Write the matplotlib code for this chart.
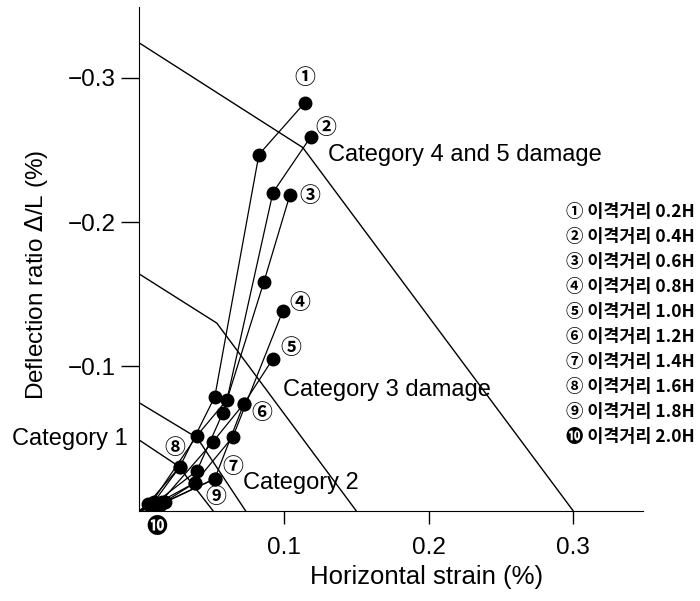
import numpy as np
import matplotlib.pyplot as plt

plt.rcParams['font.family'] = ['Liberation Sans', 'DejaVu Sans']
plt.rcParams['mathtext.fontset'] = 'custom'
plt.rcParams['mathtext.it'] = 'DejaVu Sans:italic'
kr_font = ['Noto Sans CJK KR', 'DejaVu Sans']

# damage category boundaries (horizontal strain %, deflection ratio %)
cat1_x = [0, 0.027, 0.051]
cat1_y = [-0.049, -0.031, 0]
cat2_x = [0, 0.040, 0.0735]
cat2_y = [-0.0748, -0.0506, 0]
cat3_x = [0, 0.0536, 0.150]
cat3_y = [-0.164, -0.130, 0]
cat45_x = [0, 0.113, 0.300]
cat45_y = [-0.324, -0.2516, 0]

# measured points for each offset distance
s1_x = [0, 0.006, 0.028, 0.0522, 0.0827, 0.1145]
s1_y = [0, -0.005, -0.0305, -0.079, -0.2467, -0.2827]
s2_x = [0, 0.008, 0.0398, 0.0606, 0.0924, 0.1187]
s2_y = [0, -0.005, -0.052, -0.0769, -0.2204, -0.2592]
s3_x = [0, 0.009, 0.0398, 0.0578, 0.0862, 0.1042]
s3_y = [0, -0.004, -0.0277, -0.0679, -0.1587, -0.219]
s4_x = [0, 0.010, 0.0384, 0.0647, 0.0993]
s4_y = [0, -0.004, -0.0194, -0.0513, -0.1386]
s5_x = [0, 0.011, 0.0522, 0.0723, 0.0924]
s5_y = [0, -0.003, -0.0222, -0.0742, -0.1053]
s6_x = [0, 0.012, 0.0509, 0.0723]
s6_y = [0, -0.003, -0.0478, -0.0742]
s7_x = [0, 0.018, 0.0522]
s7_y = [0, -0.006, -0.0222]
s8_x = [0, 0.010, 0.028]
s8_y = [0, -0.006, -0.0305]
s9_x = [0, 0.014, 0.0384]
s9_y = [0, -0.004, -0.0194]
s10_x = [0, 0.008, 0.016]
s10_y = [0, -0.003, -0.006]

series = [(s1_x, s1_y), (s2_x, s2_y), (s3_x, s3_y), (s4_x, s4_y), (s5_x, s5_y),
          (s6_x, s6_y), (s7_x, s7_y), (s8_x, s8_y), (s9_x, s9_y), (s10_x, s10_y)]

marks = ['①', '②', '③', '④', '⑤', '⑥', '⑦', '⑧', '⑨', '❿']
distances = ['0.2H', '0.4H', '0.6H', '0.8H', '1.0H', '1.2H', '1.4H', '1.6H', '1.8H', '2.0H']

x_ticks = [0.1, 0.2, 0.3]
x_ticklabels = ['0.1', '0.2', '0.3']
y_ticks = [-0.1, -0.2, -0.3]
y_ticklabels = ['\u22120.1', '\u22120.2', '\u22120.3']

# where the circled numbers sit next to each curve
mark_pos = [(0.1145, -0.300), (0.129, -0.2654), (0.118, -0.2183), (0.111, -0.1441),
            (0.1048, -0.113), (0.0848, -0.0679), (0.0647, -0.0305), (0.0246, -0.0437),
            (0.0529, -0.0097), (0.0121, 0.0111)]

fig = plt.figure(figsize=(7, 6.01), dpi=100)
ax = fig.add_axes([0.199, 0.150, 0.719, 0.8386])

for bx, by in [(cat1_x, cat1_y), (cat2_x, cat2_y), (cat3_x, cat3_y), (cat45_x, cat45_y)]:
    ax.plot(bx, by, color='black', lw=1.0)

for sx, sy in series:
    ax.plot(sx, sy, color='black', lw=0.9)
    ax.plot(sx[1:], sy[1:], 'o', ms=9, color='black')

for m, (mx, my) in zip(marks, mark_pos):
    ax.text(mx, my, m, family=kr_font, fontsize=15, fontweight='bold',
            ha='center', va='center', clip_on=False)

ax.text(0.1305, -0.2467, 'Category 4 and 5 damage', fontsize=17, va='center')
ax.text(0.0995, -0.0839, 'Category 3 damage', fontsize=17, va='center')
ax.text(0.0716, -0.0194, 'Category 2', fontsize=17, va='center')
ax.text(-0.008, -0.0495, 'Category 1', fontsize=17, va='center', ha='right', clip_on=False)

# legend drawn as plain text on the right
for i in range(len(marks)):
    fig.text(0.809, 0.647 - i * 0.0416, marks[i] + ' 이격거리 ' + distances[i],
             family=kr_font, fontsize=12.5, fontweight='bold', va='center')

ax.set_xlim(0, 0.348)
ax.set_ylim(0, -0.349)
ax.set_xticks(x_ticks)
ax.set_xticklabels(x_ticklabels)
ax.set_yticks(y_ticks)
ax.set_yticklabels(y_ticklabels)
ax.tick_params(axis='x', length=9.5, width=1, pad=9, labelsize=17.5)
ax.tick_params(axis='y', length=13, width=1, pad=4, labelsize=17.5)
ax.spines['top'].set_visible(False)
ax.spines['right'].set_visible(False)

ax.set_xlabel('Horizontal strain (%)', fontsize=18.5)
ax.xaxis.set_label_coords(0.571, -0.108)
ax.set_ylabel(r'Deflection ratio $\mathit{\Delta}$/L (%)', fontsize=17.5)
ax.yaxis.set_label_coords(-0.178, 0.468)

plt.savefig('out.png', dpi=100)
